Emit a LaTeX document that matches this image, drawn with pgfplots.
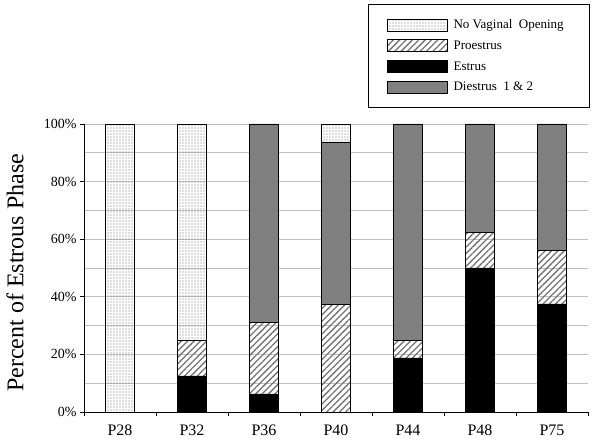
\documentclass[border=0pt]{standalone}
\usepackage{fontspec}
\setmainfont{Liberation Serif}
\usepackage{pgfplots}
\pgfplotsset{compat=1.18}
\usetikzlibrary{patterns.meta}
\pgfplotsset{
  /pgfplots/rect legend/.style={legend image code/.code={\draw[##1] (0pt,-6pt) rectangle (60pt,6pt);}}
}
\pgfplotstableread{
x estrus proestrus diestrus nvo
0 0     0     0     100
1 12.5  12.5  0     75
2 6.25  25    68.75 0
3 0     37.5  56.25 6.25
4 18.75 6.25  75    0
5 50    12.5  37.5  0
6 37.5  18.75 43.75 0
}\data
\begin{document}
\begin{tikzpicture}
\useasboundingbox (-84pt,-34pt) rectangle (516pt,412pt);
\begin{axis}[
  at={(0,0)}, anchor=south west,
  scale only axis, width=504pt, height=288pt,
  ybar stacked, bar width=0.4,
  xmin=-0.5, xmax=6.5, ymin=0, ymax=100,
  xtick={-0.5,0.5,...,6.5},
  xticklabels={P28,P32,P36,P40,P44,P48,P75,{}},
  xticklabel style={xshift=36pt, yshift=-5pt, font=\fontsize{16}{19}\selectfont},
  ytick={0,20,...,100}, minor ytick={10,30,...,90},
  yticklabel={\pgfmathprintnumber{\tick}\%},
  /pgf/number format/assume math mode=true,
  yticklabel style={font=\fontsize{14}{16}\selectfont},
  axis x line*=bottom, axis y line*=left,
  axis line style={line width=0.8pt},
  tick align=outside,
  major tick length=4pt, minor tick length=0pt,
  tick style={black, line width=0.8pt},
  ymajorgrids, yminorgrids,
  major grid style={draw=black!25, line width=0.8pt},
  minor grid style={draw=black!25, line width=0.8pt},
  ylabel={Percent of Estrous Phase},
  ylabel style={font=\fontsize{24}{28}\selectfont, at={(axis description cs:-0.137,0.483)}, anchor=center},
  legend style={at={(axis description cs:1.004,1.416)}, anchor=north east,
    draw=black, line width=0.8pt, inner xsep=18pt, inner ysep=14pt,
    row sep=8pt, column sep=6pt, nodes={inner sep=0pt},
    font=\fontsize{13}{15}\selectfont},
  legend cell align=left,
]
\addplot[draw=black, fill=black, line width=0.8pt, forget plot] table[x=x,y=estrus]{\data};
\addplot[draw=black, line width=0.8pt, pattern={Lines[angle=45,distance=4.5pt,line width=1.3pt]}, pattern color=black!55, forget plot] table[x=x,y=proestrus]{\data};
\addplot[draw=black, fill=black!50, line width=0.8pt, forget plot] table[x=x,y=diestrus]{\data};
\addplot[draw=black, line width=0.8pt, pattern={Dots[distance=3pt,radius=0.55pt]}, pattern color=black!55, forget plot] table[x=x,y=nvo]{\data};
\addlegendimage{rect legend, draw=black, line width=0.8pt, pattern={Dots[distance=3pt,radius=0.55pt]}, pattern color=black!55}
\addlegendentry{\makebox[118pt][l]{No Vaginal\ \ Opening}}
\addlegendimage{rect legend, draw=black, line width=0.8pt, pattern={Lines[angle=45,distance=4.5pt,line width=1.3pt]}, pattern color=black!55}
\addlegendentry{\makebox[118pt][l]{Proestrus}}
\addlegendimage{rect legend, draw=black, line width=0.8pt, fill=black}
\addlegendentry{\makebox[118pt][l]{Estrus}}
\addlegendimage{rect legend, draw=black, line width=0.8pt, fill=black!50}
\addlegendentry{\makebox[118pt][l]{Diestrus\ \ 1 \& 2}}
\end{axis}
\end{tikzpicture}
\end{document}
